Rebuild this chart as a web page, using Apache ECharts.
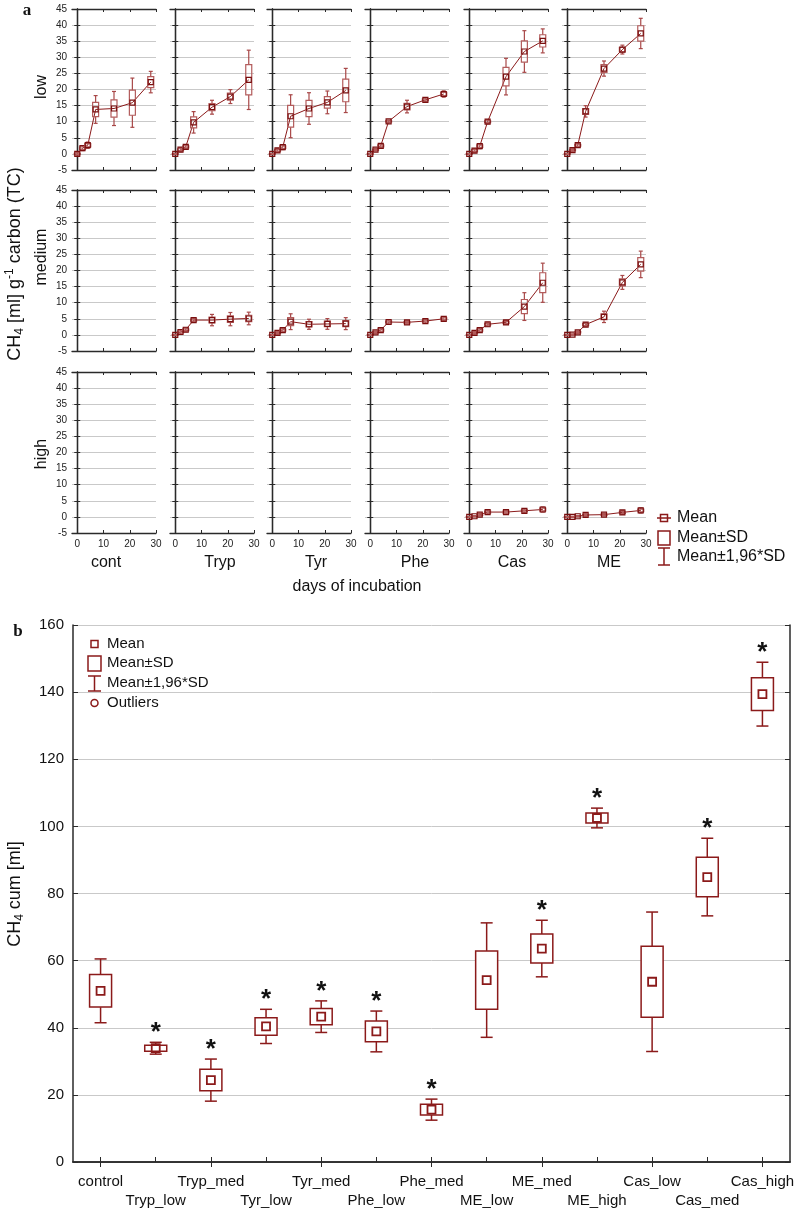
<!DOCTYPE html>
<html><head><meta charset="utf-8">
<script src="https://cdn.jsdelivr.net/npm/echarts@6/dist/echarts.min.js"></script>
<style>html,body{margin:0;padding:0;background:#fff}#c{width:797px;height:1210px}</style>
</head><body><div id="c"></div>
<script>
// ---------- Panel a data ----------
const days = [0, 2, 4, 7, 14, 21, 28];
const treatments = ['cont', 'Tryp', 'Tyr', 'Phe', 'Cas', 'ME'];
const levels = ['low', 'medium', 'high'];
const dayTicks = [0, 10, 20, 30];

const contLowMean = [0, 1.8, 2.7, 13.8, 14.1, 15.9, 22.3];
const contLowSD   = [0.2, 0.4, 0.5, 2.2, 2.7, 3.9, 1.7];
const trypLowMean = [0, 1.3, 2.2, 9.8, 14.5, 17.8, 23.0];
const trypLowSD   = [0.1, 0.3, 0.3, 1.7, 1.1, 1.1, 4.7];
const tyrLowMean  = [0, 1.1, 2.1, 11.7, 14.1, 16.0, 19.7];
const tyrLowSD    = [0.1, 0.3, 0.4, 3.4, 2.5, 1.8, 3.5];
const pheLowMean  = [0, 1.3, 2.5, 10.1, 14.7, 16.8, 18.6];
const pheLowSD    = [0.1, 0.2, 0.3, 0.2, 1.0, 0.3, 0.5];
const casLowMean  = [0, 1.0, 2.4, 10.0, 24.0, 31.8, 35.1];
const casLowSD    = [0.1, 0.3, 0.4, 0.3, 2.9, 3.3, 1.9];
const meLowMean   = [0, 1.2, 2.7, 13.2, 26.5, 32.4, 37.4];
const meLowSD     = [0.1, 0.2, 0.3, 0.9, 1.2, 0.7, 2.4];

const trypMedMean = [0, 0.9, 1.6, 4.6, 4.6, 4.9, 5.1];
const trypMedSD   = [0.1, 0.3, 0.3, 0.3, 0.9, 1.05, 1.0];
const tyrMedMean  = [0, 0.6, 1.5, 4.1, 3.3, 3.4, 3.5];
const tyrMedSD    = [0.1, 0.2, 0.3, 1.25, 0.8, 0.85, 0.95];
const pheMedMean  = [0, 0.8, 1.5, 4.0, 3.9, 4.3, 5.0];
const pheMedSD    = [0.1, 0.2, 0.3, 0.3, 0.25, 0.3, 0.3];
const casMedMean  = [0, 0.6, 1.5, 3.3, 3.9, 8.8, 16.2];
const casMedSD    = [0.1, 0.2, 0.3, 0.3, 0.3, 2.2, 3.1];
const meMedMean   = [0, 0.1, 0.8, 3.2, 5.6, 16.3, 21.9];
const meMedSD     = [0.1, 0.1, 0.2, 0.3, 0.9, 1.1, 2.1];

const casHighMean = [0, 0.2, 0.7, 1.5, 1.5, 1.9, 2.3];
const casHighSD   = [0.1, 0.1, 0.2, 0.3, 0.3, 0.3, 0.4];
const meHighMean  = [0, 0, 0.2, 0.6, 0.7, 1.4, 2.0];
const meHighSD    = [0.1, 0.1, 0.1, 0.2, 0.2, 0.3, 0.4];

// ---------- Panel b data ----------
const categories = ['control','Tryp_low','Tryp_med','Tyr_low','Tyr_med','Phe_low','Phe_med','ME_low','ME_med','ME_high','Cas_low','Cas_med','Cas_high'];
const cumMean = [51.0, 33.9, 24.4, 40.4, 43.3, 38.9, 15.6, 54.2, 63.6, 102.5, 53.7, 84.9, 139.4];
const cumSD   = [4.85, 0.9, 3.2, 2.6, 2.4, 3.1, 1.6, 8.7, 4.3, 1.5, 10.6, 5.9, 4.85];
const significant = [0, 1, 1, 1, 1, 1, 1, 0, 1, 1, 0, 1, 1];

// ---------- layout ----------
const panelData = [
  [[contLowMean, contLowSD], [trypLowMean, trypLowSD], [tyrLowMean, tyrLowSD], [pheLowMean, pheLowSD], [casLowMean, casLowSD], [meLowMean, meLowSD]],
  [null, [trypMedMean, trypMedSD], [tyrMedMean, tyrMedSD], [pheMedMean, pheMedSD], [casMedMean, casMedSD], [meMedMean, meMedSD]],
  [null, null, null, null, [casHighMean, casHighSD], [meHighMean, meHighSD]]
];
const panelLeft = [72, 170, 267, 365, 464, 562];
const panelW = 84;
const rowTop = [9, 190, 372];
const rowH = 161;
const FONT = 'Liberation Sans, Arial, sans-serif';
const DARK = '#8b1a1a';
const FRAME = '#2a2a2a';

const grids = [], xAxes = [], yAxes = [], series = [];
const NP = 18;

function topBox(params, api) {
  const x = api.value(0), m = api.value(1), s = api.value(2);
  const c = api.coord([x, m]);
  const cx = c[0], cy = c[1];
  const yT = api.coord([x, m + s])[1], yB = api.coord([x, m - s])[1];
  const wT = api.coord([x, m + 1.96 * s])[1], wB = api.coord([x, m - 1.96 * s])[1];
  const bw = 6, cw = 4, mw = 5;
  const ws = {stroke: '#a84848', lineWidth: 1.2};
  return {type: 'group', children: [
    {type: 'line', shape: {x1: cx, y1: wT, x2: cx, y2: yT}, style: ws},
    {type: 'line', shape: {x1: cx, y1: yB, x2: cx, y2: wB}, style: ws},
    {type: 'line', shape: {x1: cx - cw / 2, y1: wT, x2: cx + cw / 2, y2: wT}, style: ws},
    {type: 'line', shape: {x1: cx - cw / 2, y1: wB, x2: cx + cw / 2, y2: wB}, style: ws},
    {type: 'rect', shape: {x: cx - bw / 2, y: yT, width: bw, height: yB - yT}, style: {fill: 'none', stroke: '#b35c5c', lineWidth: 1.2}},
    {type: 'rect', shape: {x: cx - mw / 2, y: cy - mw / 2, width: mw, height: mw}, style: {fill: 'none', stroke: '#7a0f0f', lineWidth: 1.2}}
  ]};
}

for (let r = 0; r < 3; r++) {
  for (let c = 0; c < 6; c++) {
    const g = r * 6 + c;
    grids.push({left: panelLeft[c], top: rowTop[r], width: panelW, height: rowH});
    xAxes[g] = {
      type: 'value', gridIndex: g, min: -2, max: 30,
      axisLine: {show: true, onZero: false, lineStyle: {color: FRAME, width: 1.3}},
      axisTick: {show: true, inside: true, length: 3, customValues: dayTicks, lineStyle: {color: FRAME}},
      axisLabel: {show: r === 2, customValues: dayTicks, fontSize: 10, margin: 6, color: '#222', fontFamily: FONT},
      splitLine: {show: false}
    };
    xAxes[NP + g] = {
      type: 'value', gridIndex: g, position: 'top', min: -2, max: 30,
      axisLine: {show: true, onZero: false, lineStyle: {color: FRAME, width: 1.3}},
      axisTick: {show: true, inside: true, length: 3, customValues: dayTicks, lineStyle: {color: FRAME}},
      axisLabel: {show: false}, splitLine: {show: false}
    };
    yAxes[g] = {
      type: 'value', gridIndex: g, min: -5, max: 45, interval: 5,
      axisLine: {show: true, lineStyle: {color: FRAME, width: 1.3}},
      axisTick: {show: true, inside: true, length: 3, lineStyle: {color: FRAME}},
      axisLabel: {show: c === 0, fontSize: 10, margin: 5, color: '#222', fontFamily: FONT},
      splitLine: {show: true, lineStyle: {color: '#c9c9c9', width: 1}}
    };
    yAxes[NP + g] = {
      type: 'value', gridIndex: g, position: 'right', min: -5, max: 45, interval: 5,
      axisLine: {show: true, lineStyle: {color: FRAME, width: 1.3}},
      axisTick: {show: true, inside: true, length: 3, lineStyle: {color: FRAME}},
      axisLabel: {show: false}, splitLine: {show: false}
    };
    const pd = panelData[r][c];
    if (pd) {
      const mean = pd[0], sd = pd[1];
      series.push({
        type: 'line', xAxisIndex: g, yAxisIndex: g, symbol: 'none', silent: true,
        lineStyle: {color: DARK, width: 1}, data: days.map((d, i) => [d, mean[i]]), z: 2
      });
      series.push({
        type: 'custom', xAxisIndex: g, yAxisIndex: g, silent: true, z: 3,
        renderItem: topBox, data: days.map((d, i) => [d, mean[i], sd[i]])
      });
    }
  }
}

// ---------- panel b ----------
const GB = 18;
grids.push({left: 73, right: 4, top: 625, bottom: 47});
xAxes.push({
  type: 'category', gridIndex: GB, data: categories, boundaryGap: true,
  axisLine: {show: true, lineStyle: {color: FRAME, width: 1.5}},
  axisTick: {show: true, inside: true, alignWithLabel: true, length: 5, lineStyle: {color: FRAME}},
  axisLabel: {interval: 0, fontSize: 15, margin: 10, lineHeight: 19, color: '#111', fontFamily: FONT,
    formatter: (v, i) => (i % 2 ? '\n' + v : v)},
  splitLine: {show: false}
});
xAxes.push({
  type: 'category', gridIndex: GB, position: 'top', data: categories, boundaryGap: true,
  axisLine: {show: true, lineStyle: {color: FRAME, width: 1.5}},
  axisTick: {show: true, inside: true, alignWithLabel: true, length: 5, lineStyle: {color: FRAME}},
  axisLabel: {show: false}, splitLine: {show: false}
});
yAxes.push({
  type: 'value', gridIndex: GB, min: 0, max: 160, interval: 20,
  axisLine: {show: true, lineStyle: {color: FRAME, width: 1.5}},
  axisTick: {show: true, inside: true, length: 5, lineStyle: {color: FRAME}},
  axisLabel: {fontSize: 15, margin: 9, color: '#111', fontFamily: FONT},
  splitLine: {show: true, lineStyle: {color: '#c9c9c9', width: 1}}
});
yAxes.push({
  type: 'value', gridIndex: GB, position: 'right', min: 0, max: 160, interval: 20,
  axisLine: {show: true, lineStyle: {color: FRAME, width: 1.5}},
  axisTick: {show: true, inside: true, length: 5, lineStyle: {color: FRAME}},
  axisLabel: {show: false}, splitLine: {show: false}
});

function bottomBox(params, api) {
  const x = api.value(0), m = api.value(1), s = api.value(2), sig = api.value(3);
  const c = api.coord([x, m]);
  const cx = c[0], cy = c[1];
  const yT = api.coord([x, m + s])[1], yB = api.coord([x, m - s])[1];
  const wT = api.coord([x, m + 1.96 * s])[1], wB = api.coord([x, m - 1.96 * s])[1];
  const bw = 22, cw = 12, mw = 8;
  const st = {stroke: DARK, lineWidth: 1.5};
  const ch = [
    {type: 'line', shape: {x1: cx, y1: wT, x2: cx, y2: yT}, style: st},
    {type: 'line', shape: {x1: cx, y1: yB, x2: cx, y2: wB}, style: st},
    {type: 'line', shape: {x1: cx - cw / 2, y1: wT, x2: cx + cw / 2, y2: wT}, style: st},
    {type: 'line', shape: {x1: cx - cw / 2, y1: wB, x2: cx + cw / 2, y2: wB}, style: st},
    {type: 'rect', shape: {x: cx - bw / 2, y: yT, width: bw, height: yB - yT}, style: {fill: '#fff', stroke: DARK, lineWidth: 1.5}},
    {type: 'rect', shape: {x: cx - mw / 2, y: cy - mw / 2, width: mw, height: mw}, style: {fill: 'none', stroke: DARK, lineWidth: 1.8}}
  ];
  if (sig) {
    ch.push({type: 'text', x: cx, y: wT - 9, style: {text: '*', fontSize: 26, fontWeight: 'bold', fontFamily: FONT, fill: '#111', align: 'center', verticalAlign: 'middle'}});
  }
  return {type: 'group', children: ch};
}
series.push({
  type: 'custom', xAxisIndex: 2 * NP, yAxisIndex: 2 * NP, silent: true, z: 3,
  renderItem: bottomBox,
  data: categories.map((n, i) => [i, cumMean[i], cumSD[i], significant[i]])
});

// ---------- texts & legends ----------
const txt = (x, y, text, extra) => Object.assign({
  type: 'text', x: x, y: y,
  style: Object.assign({text: text, fontSize: 16, fontFamily: FONT, fill: '#111', align: 'center', verticalAlign: 'middle'}, extra || {})
});
const catX = [106, 220, 316, 415, 512, 609];
const graphic = [];
graphic.push(txt(27, 11, 'a', {fontFamily: 'Liberation Serif, serif', fontWeight: 'bold', fontSize: 17}));
graphic.push(txt(18, 632, 'b', {fontFamily: 'Liberation Serif, serif', fontWeight: 'bold', fontSize: 17}));
treatments.forEach((t, i) => graphic.push(txt(catX[i], 563, t)));
graphic.push(txt(357, 587, 'days of incubation'));
const rowLabelY = [87, 257, 454];
levels.forEach((l, i) => graphic.push(Object.assign(txt(42, rowLabelY[i], l), {rotation: Math.PI / 2})));
graphic.push({
  type: 'text', x: 15, y: 264, rotation: Math.PI / 2,
  style: {
    text: '{n|CH}{s|4}{n| [ml] g}{p|-1}{n| carbon (TC)}',
    align: 'center', verticalAlign: 'middle', fill: '#111', fontFamily: FONT,
    rich: {
      n: {fontSize: 18, fontFamily: FONT, fill: '#111'},
      s: {fontSize: 12, fontFamily: FONT, fill: '#111', padding: [10, 0, 0, 0]},
      p: {fontSize: 12, fontFamily: FONT, fill: '#111', padding: [0, 0, 10, 0]}
    }
  }
});
graphic.push({
  type: 'text', x: 15, y: 894, rotation: Math.PI / 2,
  style: {
    text: '{n|CH}{s|4}{n| cum [ml]}',
    align: 'center', verticalAlign: 'middle', fill: '#111', fontFamily: FONT,
    rich: {
      n: {fontSize: 18, fontFamily: FONT, fill: '#111'},
      s: {fontSize: 12, fontFamily: FONT, fill: '#111', padding: [10, 0, 0, 0]}
    }
  }
});
// legend panel a
const lg = {stroke: DARK, lineWidth: 1.5, fill: 'none'};
graphic.push({type: 'line', shape: {x1: 657, y1: 518, x2: 671, y2: 518}, style: lg});
graphic.push({type: 'rect', shape: {x: 660.5, y: 514.5, width: 7, height: 7}, style: lg});
graphic.push({type: 'rect', shape: {x: 658, y: 531, width: 12, height: 14}, style: lg});
graphic.push({type: 'line', shape: {x1: 664, y1: 548, x2: 664, y2: 565}, style: lg});
graphic.push({type: 'line', shape: {x1: 658, y1: 548, x2: 670, y2: 548}, style: lg});
graphic.push({type: 'line', shape: {x1: 658, y1: 565, x2: 670, y2: 565}, style: lg});
graphic.push(txt(677, 518, 'Mean', {align: 'left'}));
graphic.push(txt(677, 538, 'Mean±SD', {align: 'left'}));
graphic.push(txt(677, 557, 'Mean±1,96*SD', {align: 'left'}));
// legend panel b
graphic.push({type: 'rect', shape: {x: 91, y: 640.5, width: 7, height: 7}, style: lg});
graphic.push({type: 'rect', shape: {x: 88, y: 656, width: 13, height: 15}, style: lg});
graphic.push({type: 'line', shape: {x1: 94.5, y1: 676, x2: 94.5, y2: 691}, style: lg});
graphic.push({type: 'line', shape: {x1: 88, y1: 676, x2: 101, y2: 676}, style: lg});
graphic.push({type: 'line', shape: {x1: 88, y1: 691, x2: 101, y2: 691}, style: lg});
graphic.push({type: 'circle', shape: {cx: 94.5, cy: 703, r: 3.5}, style: lg});
graphic.push(txt(107, 644, 'Mean', {align: 'left', fontSize: 15}));
graphic.push(txt(107, 663, 'Mean±SD', {align: 'left', fontSize: 15}));
graphic.push(txt(107, 683, 'Mean±1,96*SD', {align: 'left', fontSize: 15}));
graphic.push(txt(107, 703, 'Outliers', {align: 'left', fontSize: 15}));

const chart = echarts.init(document.getElementById('c'), null, {renderer: 'canvas'});
chart.setOption({
  animation: false,
  backgroundColor: '#fff',
  grid: grids, xAxis: xAxes, yAxis: yAxes, series: series, graphic: graphic
});
</script></body></html>
